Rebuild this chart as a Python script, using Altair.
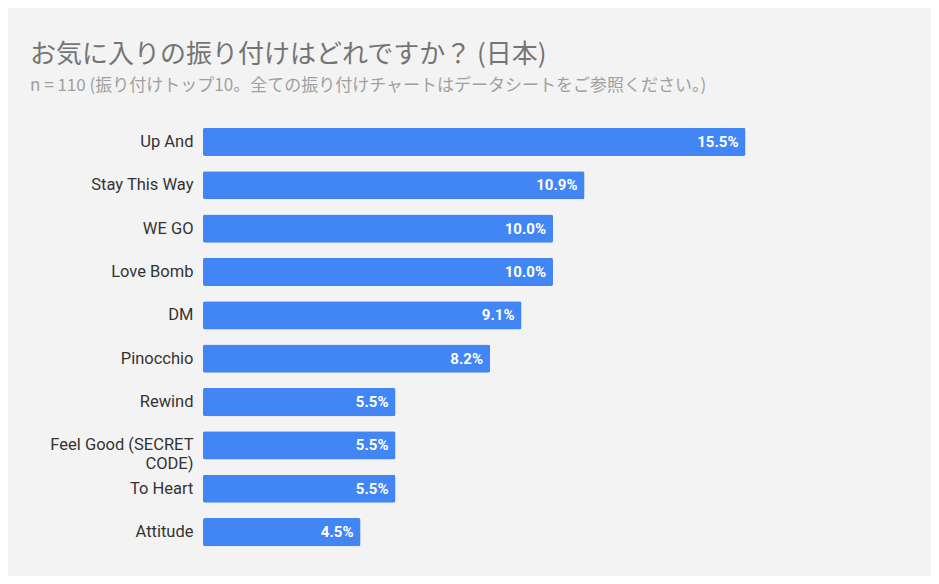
import altair as alt
import pandas as pd

songs = ["Up And", "Stay This Way", "WE GO", "Love Bomb", "DM", "Pinocchio",
         "Rewind", "Feel Good (SECRET CODE)", "To Heart", "Attitude"]
shares = [15.5, 10.9, 10.0, 10.0, 9.1, 8.2, 5.5, 5.5, 5.5, 4.5]

df = pd.DataFrame({"song": songs, "share": shares})
df["label"] = df["share"].map(lambda v: f"{v:.1f}%")

y = alt.Y("song:N", sort=songs, title=None,
          scale=alt.Scale(paddingInner=0.35, paddingOuter=0.18),
          axis=alt.Axis(labelFontSize=16.5, labelColor="#333333", ticks=False, domain=False,
                        labelPadding=10, labelLimit=200, labelFont="Roboto",
                        labelExpr="datum.label == 'Feel Good (SECRET CODE)' ? ['Feel Good (SECRET', 'CODE)'] : datum.label"))
x = alt.X("share:Q", title=None, scale=alt.Scale(domain=[0, 16]), axis=None)

base = alt.Chart(df).encode(y=y)
bars = base.mark_bar(color="#4285f4", cornerRadius=2).encode(x=x)
text = base.mark_text(align="right", dx=-7, color="white", fontSize=15,
                      fontWeight="bold", font="Roboto").encode(x=x, text="label:N")

chart = (bars + text).properties(
    width=560, height=434,
    background="#f3f3f3",
    autosize=alt.AutoSizeParams(type="none"),
    padding={"left": 195, "top": 112, "right": 168, "bottom": 22},
    title=alt.TitleParams(
        "お気に入りの振り付けはどれですか？ (日本)",
        subtitle="n = 110 (振り付けトップ10。全ての振り付けチャートはデータシートをご参照ください。)",
        anchor="start", frame="group", dx=-173, offset=26, fontSize=26, fontWeight="normal",
        color="#757575", subtitleFontSize=17, subtitleColor="#a0a0a0",
        subtitlePadding=10, font="Noto Sans CJK JP", subtitleFont="Noto Sans CJK JP",
    ),
).configure_view(stroke=None)

chart.save("out.html", embed_options={"renderer": "svg", "actions": False})
